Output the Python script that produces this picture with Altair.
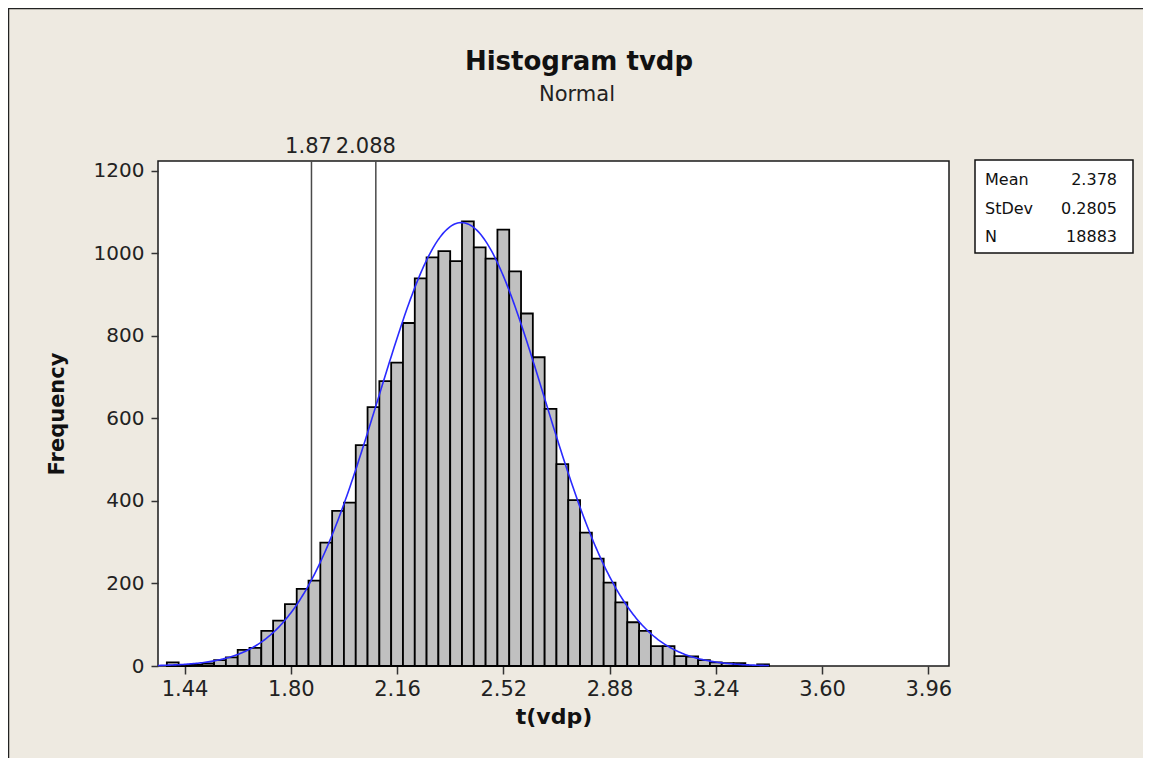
import altair as alt
import pandas as pd
import numpy as np

# ---------------- data ----------------
bin_mid = [1.40, 1.44, 1.48, 1.52, 1.56, 1.60, 1.64, 1.68, 1.72, 1.76,
           1.80, 1.84, 1.88, 1.92, 1.96, 2.00, 2.04, 2.08, 2.12, 2.16,
           2.20, 2.24, 2.28, 2.32, 2.36, 2.40, 2.44, 2.48, 2.52, 2.56,
           2.60, 2.64, 2.68, 2.72, 2.76, 2.80, 2.84, 2.88, 2.92, 2.96,
           3.00, 3.04, 3.08, 3.12, 3.16, 3.20, 3.24, 3.28, 3.32, 3.36, 3.40]
counts = [9, 2, 3, 6, 14, 21, 39, 44, 85, 110,
          150, 187, 207, 299, 376, 396, 535, 627, 690, 735,
          831, 939, 990, 1005, 981, 1077, 1014, 987, 1057, 956,
          854, 748, 623, 489, 402, 323, 260, 202, 154, 106,
          85, 48, 48, 24, 23, 14, 9, 7, 7, 0, 4]
bin_width = 0.04

ref_values = [1.87, 2.088]
ref_labels = ["1.87", "2.088"]
ref_label_dx = [-3, -10]

stat_names = ["Mean", "StDev", "N"]
stat_values = ["2.378", "0.2805", "18883"]
fit_mean, fit_sd, fit_n = 2.378, 0.2805, 18883

x_ticks = [1.44, 1.80, 2.16, 2.52, 2.88, 3.24, 3.60, 3.96]
y_ticks = [0, 200, 400, 600, 800, 1000, 1200]

title_text = "Histogram tvdp"
subtitle_text = "Normal"
x_title = "t(vdp)"
y_title = "Frequency"

# ---------------- tables ----------------
bars_df = pd.DataFrame({"mid": bin_mid, "count": counts})
bars_df["lo"] = bars_df["mid"] - bin_width / 2
bars_df["hi"] = bars_df["mid"] + bin_width / 2

# fitted normal curve (parameters from the legend box)
xs = np.arange(1.35, 3.4201, 0.005)
curve_df = pd.DataFrame({
    "x": xs,
    "y": fit_n * bin_width / (fit_sd * np.sqrt(2 * np.pi))
         * np.exp(-0.5 * ((xs - fit_mean) / fit_sd) ** 2),
})
ref_df = pd.DataFrame({"v": ref_values, "label": ref_labels})
dummy = pd.DataFrame({"a": [0]})

FONT = "DejaVu Sans"
xscale = alt.Scale(domain=[1.35, 4.03], nice=False, zero=False)
yscale = alt.Scale(domain=[0, 1223.5], nice=False)

x_axis = alt.Axis(values=x_ticks, format=".2f", title=x_title, grid=False,
                  domain=False, tickColor="#333", tickSize=8, tickWidth=1.5,
                  labelFont=FONT, labelFontSize=21, labelColor="#222",
                  labelPadding=4, labelFlush=False, labelOverlap=False,
                  titleFont=FONT, titleFontSize=22, titleFontWeight="bold",
                  titleColor="#111", titlePadding=7)
y_axis = alt.Axis(values=y_ticks, format="d", title=y_title, grid=False,
                  domain=False, tickColor="#333", tickSize=7, tickWidth=1.5,
                  labelFont=FONT, labelFontSize=20, labelColor="#222",
                  labelPadding=7, labelFlush=False, labelOverlap=False,
                  titleFont=FONT, titleFontSize=21, titleFontWeight="bold",
                  titleColor="#111", titlePadding=26)

rules = alt.Chart(ref_df).mark_rule(color="#4a4a4a", strokeWidth=1.5).encode(
    x=alt.X("v:Q", scale=xscale, axis=x_axis)
)

ref_texts = []
for i in range(len(ref_values)):
    ref_texts.append(
        alt.Chart(ref_df.iloc[[i]]).mark_text(
            font=FONT, fontSize=21, color="#222", align="center",
            baseline="alphabetic", dx=ref_label_dx[i]
        ).encode(
            x=alt.X("v:Q", scale=xscale),
            y=alt.value(-8),
            text="label:N",
        )
    )

bars = alt.Chart(bars_df).mark_bar(fill="#C0C0C0", stroke="#000", strokeWidth=1.8).encode(
    x=alt.X("lo:Q", scale=xscale, axis=x_axis),
    x2="hi:Q",
    y=alt.Y("count:Q", scale=yscale, axis=y_axis),
    y2=alt.datum(0),
)

curve = alt.Chart(curve_df).mark_line(color="#2a2aff", strokeWidth=1.6).encode(
    x=alt.X("x:Q", scale=xscale),
    y=alt.Y("y:Q", scale=yscale),
)


def label(txt, x, y, size, weight="normal", align="left", color="#111"):
    return alt.Chart(dummy).mark_text(
        font=FONT, fontSize=size, fontWeight=weight, align=align,
        baseline="alphabetic", color=color
    ).encode(x=alt.value(x), y=alt.value(y), text=alt.value(txt))


title = label(title_text, 421, -91, 26, "bold", "center", "#111")
subtitle = label(subtitle_text, 419, -60, 21, "normal", "center", "#222")

legend_box = alt.Chart(dummy).mark_rect(fill="white", stroke="#111", strokeWidth=1.5).encode(
    x=alt.value(817), x2=alt.value(975), y=alt.value(-1), y2=alt.value(92)
)
row_base = [24, 53, 81]
stat_layers = []
for i in range(3):
    stat_layers.append(label(stat_names[i], 827, row_base[i], 16, "normal", "left", "#111"))
    stat_layers.append(label(stat_values[i], 959, row_base[i], 16, "normal", "right", "#111"))

border_left = alt.Chart(dummy).mark_rule(color="#222", strokeWidth=1.5).encode(
    x=alt.value(-149.5), y=alt.value(-153), y2=alt.value(597)
)
border_top = alt.Chart(dummy).mark_rule(color="#222", strokeWidth=1.5).encode(
    x=alt.value(-150), x2=alt.value(985), y=alt.value(-152.5)
)

chart = alt.layer(
    rules, bars, curve, *ref_texts, title, subtitle, legend_box, *stat_layers,
    border_left, border_top
).properties(
    width=791, height=505,
    autosize=alt.AutoSizeParams(type="none"),
    padding={"left": 150, "top": 153, "right": 194, "bottom": 92},
    background="#EEEAE1",
).configure_view(fill="white", stroke="#1a1a1a", strokeWidth=1.5)

chart.save("out.html", embed_options={"renderer": "svg", "actions": False})
